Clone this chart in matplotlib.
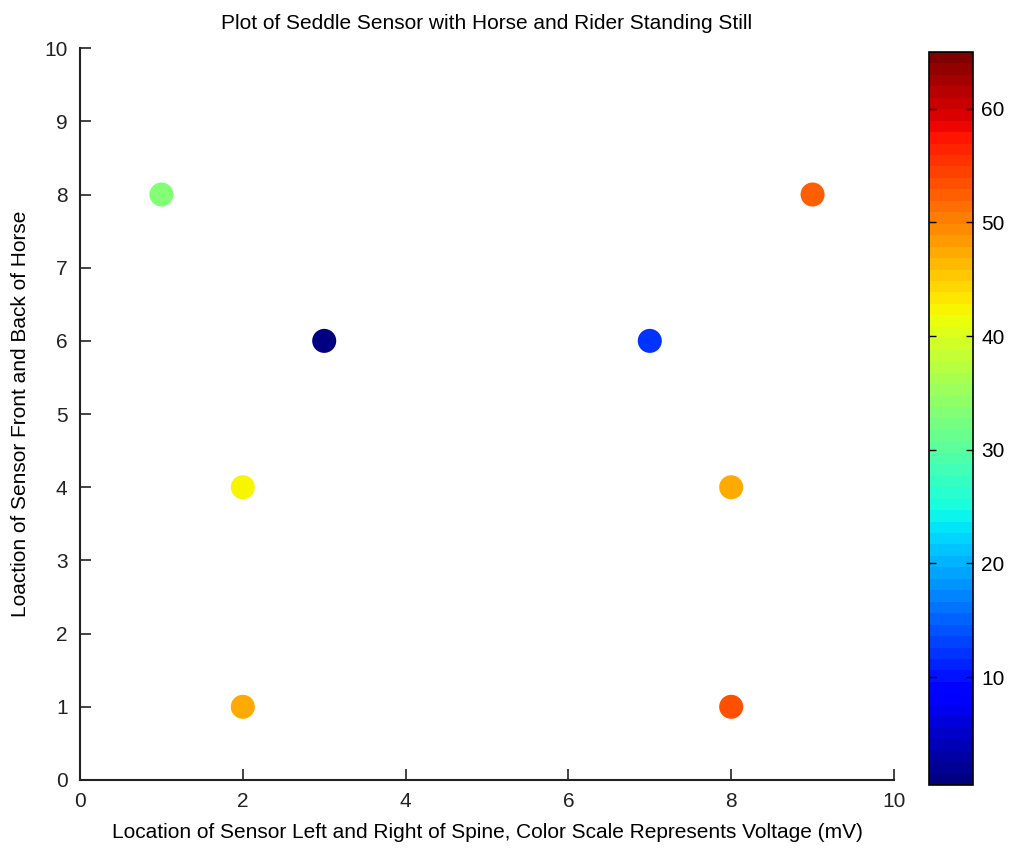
import numpy as np
import matplotlib.pyplot as plt

# sensor positions and voltages (mV)
poz_x = [1, 3, 7, 9, 2, 8, 2, 8]
poz_y = [8, 6, 6, 8, 4, 4, 1, 1]
napetost = [33, 1, 12.5, 52, 42.5, 47, 47, 53]

plt.rcParams['font.family'] = ['Liberation Sans Narrow', 'Liberation Sans', 'DejaVu Sans']

fig = plt.figure(figsize=(10.13, 8.49), dpi=100)
ax = fig.add_axes([0.079, 0.0813, 0.8035, 0.862])
cax = fig.add_axes([0.917, 0.0754, 0.0434, 0.8634])

cmap = plt.get_cmap('jet', 64)
sc = ax.scatter(poz_x, poz_y, c=napetost, cmap=cmap, vmin=0.5, vmax=65, s=300, edgecolors='none')

ax.set_xlim(0, 10)
ax.set_ylim(0, 10)
ax.set_xticks(range(0, 11, 2))
ax.set_yticks(range(0, 11))
ax.spines['top'].set_visible(False)
ax.spines['right'].set_visible(False)
for s in ['left', 'bottom']:
    ax.spines[s].set_linewidth(1.5)
    ax.spines[s].set_color('#222222')
ax.tick_params(direction='in', length=8, width=1.2, labelsize=15, pad=9, colors='#222222')

ax.set_title("Plot of Seddle Sensor with Horse and Rider Standing Still", fontsize=15, pad=14)
ax.set_xlabel("Location of Sensor Left and Right of Spine, Color Scale Represents Voltage (mV)", fontsize=15, labelpad=8)
ax.set_ylabel("Loaction of Sensor Front and Back of Horse", fontsize=15, labelpad=10)

cb = fig.colorbar(sc, cax=cax, ticks=[10, 20, 30, 40, 50, 60])
cb.outline.set_linewidth(1.2)
cax.tick_params(direction='in', length=5, width=1, labelsize=15, pad=6, left=True)

fig.savefig("out.png", dpi=100)
